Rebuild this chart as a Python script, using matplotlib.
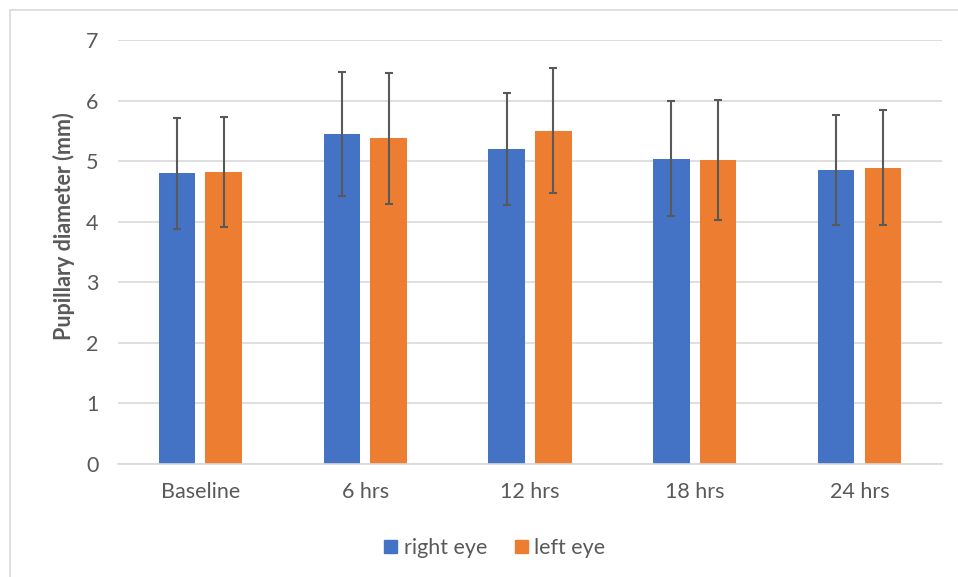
import matplotlib.pyplot as plt
import numpy as np
from matplotlib.patches import Rectangle

# data
categories = ['Baseline', '6 hrs', '12 hrs', '18 hrs', '24 hrs']
right_eye = [4.80, 5.45, 5.20, 5.04, 4.85]
right_err = [0.92, 1.02, 0.93, 0.95, 0.91]
left_eye = [4.82, 5.38, 5.50, 5.02, 4.89]
left_err = [0.91, 1.08, 1.03, 0.99, 0.95]

blue = '#4472c4'
orange = '#ed7d31'
grey = '#595959'

plt.rcParams['font.family'] = ['Lato', 'DejaVu Sans']

fig = plt.figure(figsize=(9.58, 5.77), dpi=100)
ax = fig.add_axes([0.1232, 0.1958, 0.86, 0.7349])

# chart frame
fig.patches.append(Rectangle((10 / 958, -0.05), 1.2, 0.05 + 567 / 577,
                             transform=fig.transFigure, fill=False,
                             edgecolor='#d9d9d9', linewidth=1.2))

x = np.arange(len(categories))
w = 0.222
off = 0.1415

ax.bar(x - off, right_eye, w, color=blue, zorder=2)
ax.bar(x + off, left_eye, w, color=orange, zorder=2)
ax.errorbar(x - off, right_eye, yerr=right_err, fmt='none', ecolor=grey,
            elinewidth=1.5, capsize=2.8, capthick=1.5, zorder=3)
ax.errorbar(x + off, left_eye, yerr=left_err, fmt='none', ecolor=grey,
            elinewidth=1.5, capsize=2.8, capthick=1.5, zorder=3)

ax.set_xlim(-0.5, 4.5)
ax.set_ylim(0, 7)
ax.set_yticks(range(0, 8))
ax.set_xticks(x)
ax.set_xticklabels(categories)
ax.yaxis.grid(True, color='#d9d9d9', linewidth=1.2, zorder=0)
ax.set_axisbelow(True)
for s in ['top', 'right', 'left']:
    ax.spines[s].set_visible(False)
ax.spines['bottom'].set_color('#d9d9d9')
ax.spines['bottom'].set_linewidth(1.2)
ax.tick_params(length=0, labelsize=15.5, labelcolor=grey)
ax.tick_params(axis='y', pad=14)
ax.tick_params(axis='x', pad=13)

ax.set_ylabel('Pupillary diameter (mm)', fontsize=15.5, fontweight='bold',
              color=grey)
ax.yaxis.set_label_coords(-0.052, 0.56)

handles = [Rectangle((0, 0), 1, 1, color=blue), Rectangle((0, 0), 1, 1, color=orange)]
fig.legend(handles, ['right eye', 'left eye'], loc='center',
           bbox_to_anchor=(495 / 958, 1 - 548 / 577), ncol=2, frameon=False,
           fontsize=15.5, labelcolor=grey, handlelength=0.6, handleheight=0.6,
           handletextpad=0.3, columnspacing=1.3)

plt.savefig('out.png', dpi=100)
